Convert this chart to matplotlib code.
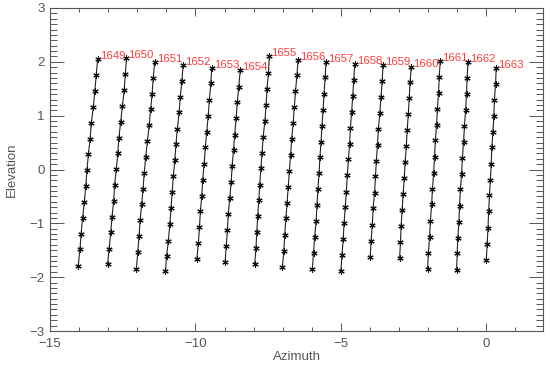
import matplotlib
matplotlib.use("Agg")
import matplotlib.pyplot as plt
from matplotlib.ticker import MultipleLocator

plt.rcParams['font.family'] = ['Liberation Sans', 'DejaVu Sans']

scan_ids = ["1649", "1650", "1651", "1652", "1653", "1654", "1655", "1656",
            "1657", "1658", "1659", "1660", "1661", "1662", "1663"]

az_1649 = [-13.36, -13.41, -13.46, -13.51, -13.58, -13.62, -13.68, -13.73, -13.77, -13.82, -13.88, -13.93, -13.97, -14.03]
el_1649 = [2.05, 1.76, 1.45, 1.16, 0.87, 0.57, 0.28, -0.01, -0.31, -0.60, -0.90, -1.19, -1.48, -1.79]
az_1650 = [-12.37, -12.41, -12.45, -12.51, -12.57, -12.63, -12.67, -12.72, -12.78, -12.81, -12.87, -12.91, -12.97, -13.02]
el_1650 = [2.07, 1.77, 1.47, 1.18, 0.89, 0.59, 0.30, 0.01, -0.29, -0.59, -0.88, -1.17, -1.48, -1.76]
az_1651 = [-11.40, -11.45, -11.49, -11.54, -11.59, -11.65, -11.71, -11.76, -11.80, -11.85, -11.90, -11.94, -11.98, -12.03]
el_1651 = [1.99, 1.70, 1.41, 1.12, 0.82, 0.53, 0.23, -0.06, -0.36, -0.65, -0.94, -1.24, -1.53, -1.84]
az_1652 = [-10.42, -10.47, -10.52, -10.56, -10.62, -10.67, -10.71, -10.76, -10.80, -10.84, -10.88, -10.93, -10.99, -11.03]
el_1652 = [1.95, 1.64, 1.35, 1.06, 0.76, 0.47, 0.17, -0.13, -0.42, -0.72, -1.01, -1.32, -1.60, -1.89]
az_1653 = [-9.44, -9.47, -9.52, -9.56, -9.61, -9.66, -9.70, -9.75, -9.78, -9.83, -9.86, -9.90, -9.95]
el_1653 = [1.89, 1.60, 1.30, 1.00, 0.70, 0.41, 0.11, -0.19, -0.49, -0.78, -1.07, -1.37, -1.66]
az_1654 = [-8.46, -8.51, -8.56, -8.60, -8.65, -8.69, -8.74, -8.77, -8.82, -8.87, -8.90, -8.94, -8.98]
el_1654 = [1.84, 1.54, 1.25, 0.95, 0.65, 0.36, 0.06, -0.23, -0.53, -0.83, -1.12, -1.42, -1.71]
az_1655 = [-7.46, -7.49, -7.54, -7.57, -7.61, -7.67, -7.71, -7.75, -7.79, -7.82, -7.86, -7.89, -7.92, -7.96]
el_1655 = [2.11, 1.79, 1.50, 1.20, 0.91, 0.61, 0.31, 0.02, -0.28, -0.57, -0.86, -1.17, -1.46, -1.75]
az_1656 = [-6.47, -6.51, -6.56, -6.60, -6.64, -6.69, -6.73, -6.77, -6.81, -6.85, -6.89, -6.93, -6.96, -7.01]
el_1656 = [2.04, 1.75, 1.45, 1.16, 0.86, 0.57, 0.27, -0.02, -0.32, -0.62, -0.91, -1.21, -1.51, -1.81]
az_1657 = [-5.51, -5.54, -5.58, -5.61, -5.65, -5.68, -5.72, -5.75, -5.79, -5.82, -5.85, -5.90, -5.94, -5.98]
el_1657 = [2.00, 1.71, 1.41, 1.11, 0.81, 0.52, 0.23, -0.07, -0.37, -0.66, -0.96, -1.25, -1.55, -1.85]
az_1658 = [-4.52, -4.56, -4.59, -4.63, -4.67, -4.70, -4.74, -4.78, -4.81, -4.85, -4.89, -4.92, -4.96, -5.00]
el_1658 = [1.96, 1.66, 1.37, 1.07, 0.78, 0.48, 0.19, -0.11, -0.41, -0.70, -1.00, -1.30, -1.59, -1.89]
az_1659 = [-3.55, -3.58, -3.62, -3.66, -3.71, -3.74, -3.78, -3.81, -3.84, -3.89, -3.92, -3.96, -3.99]
el_1659 = [1.95, 1.64, 1.35, 1.05, 0.75, 0.46, 0.16, -0.13, -0.43, -0.72, -1.03, -1.33, -1.62]
az_1660 = [-2.58, -2.62, -2.65, -2.68, -2.72, -2.75, -2.79, -2.82, -2.86, -2.89, -2.93, -2.95, -2.98]
el_1660 = [1.91, 1.62, 1.32, 1.03, 0.73, 0.43, 0.14, -0.16, -0.46, -0.75, -1.05, -1.35, -1.65]
az_1661 = [-1.58, -1.62, -1.64, -1.68, -1.71, -1.75, -1.78, -1.81, -1.85, -1.88, -1.92, -1.95, -1.99, -2.02]
el_1661 = [2.02, 1.72, 1.43, 1.13, 0.83, 0.54, 0.24, -0.06, -0.36, -0.65, -0.95, -1.25, -1.55, -1.85]
az_1662 = [-0.63, -0.66, -0.68, -0.71, -0.75, -0.78, -0.82, -0.85, -0.89, -0.92, -0.94, -0.98, -1.00, -1.02]
el_1662 = [1.99, 1.70, 1.40, 1.11, 0.81, 0.52, 0.22, -0.08, -0.37, -0.67, -0.97, -1.27, -1.56, -1.86]
az_1663 = [0.34, 0.32, 0.28, 0.26, 0.23, 0.19, 0.17, 0.14, 0.11, 0.08, 0.06, 0.03, 0.00]
el_1663 = [1.89, 1.59, 1.30, 1.00, 0.70, 0.41, 0.11, -0.19, -0.48, -0.78, -1.08, -1.38, -1.68]

scans = [
    (az_1649, el_1649), (az_1650, el_1650), (az_1651, el_1651), (az_1652, el_1652),
    (az_1653, el_1653), (az_1654, el_1654), (az_1655, el_1655), (az_1656, el_1656),
    (az_1657, el_1657), (az_1658, el_1658), (az_1659, el_1659), (az_1660, el_1660),
    (az_1661, el_1661), (az_1662, el_1662), (az_1663, el_1663),
]

axis_color = '#555555'
fig = plt.figure(figsize=(5.5, 3.74), dpi=100)
ax = fig.add_axes([50/550, 1 - 331/374, 493/550, 323/374])

for sid, (az, el) in zip(scan_ids, scans):
    ax.plot(az, el, color='#222222', lw=0.8, marker=(6, 2, 0), ms=4.5,
            mew=0.8, mec='#111111')
    ax.annotate(sid, (az[0], el[0]), xytext=(1.5, 0), textcoords='offset points',
                ha='left', va='baseline', color='#ff3b3b', fontsize=8.2)

ax.set_xlim(-15, 1.95)
ax.set_ylim(-3, 3)
ax.xaxis.set_major_locator(MultipleLocator(5))
ax.xaxis.set_minor_locator(MultipleLocator(1))
ax.yaxis.set_major_locator(MultipleLocator(1))
ax.yaxis.set_minor_locator(MultipleLocator(0.1))
ax.tick_params(which='both', direction='in', top=True, right=True,
               colors=axis_color, labelcolor=axis_color, labelsize=9.5, width=0.7)
ax.tick_params(axis='x', which='major', length=6, pad=5)
ax.tick_params(axis='x', which='minor', length=3)
ax.tick_params(axis='y', which='major', length=10, pad=4)
ax.tick_params(axis='y', which='minor', length=5)
for s in ax.spines.values():
    s.set_color(axis_color)
    s.set_linewidth(0.8)

ax.set_xlabel('Azimuth', color=axis_color, fontsize=9.5, labelpad=1)
ax.set_ylabel('Elevation', color=axis_color, fontsize=9.5, labelpad=8)

fig.savefig('out.png', dpi=100)
